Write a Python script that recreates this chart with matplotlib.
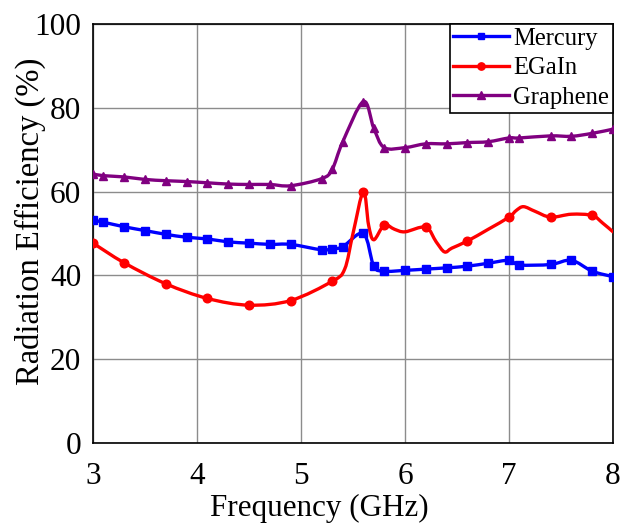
import matplotlib
matplotlib.use("Agg")
import matplotlib.pyplot as plt
from matplotlib.path import Path
from matplotlib.patches import PathPatch
from matplotlib.lines import Line2D
import numpy as np

plt.rcParams['font.family'] = ['Liberation Serif', 'DejaVu Serif']

freq = [3.0, 3.1, 3.3, 3.5, 3.7, 3.9, 4.1, 4.3, 4.5, 4.7, 4.9, 5.2, 5.3, 5.4,
        5.6, 5.7, 5.8, 6.0, 6.2, 6.4, 6.6, 6.8, 7.0, 7.1, 7.4, 7.6, 7.8, 8.0]
mercury = [53.2, 52.7, 51.6, 50.7, 49.8, 49.1, 48.7, 48.0, 47.7, 47.4, 47.4, 46.1, 46.4, 46.8,
           50.0, 42.2, 41.0, 41.2, 41.5, 41.8, 42.2, 42.9, 43.6, 42.5, 42.6, 43.6, 41.0, 39.7]
graphene = [64.2, 63.8, 63.5, 62.9, 62.6, 62.4, 62.1, 61.8, 61.7, 61.7, 61.4, 63.1, 65.3, 71.8,
            81.5, 75.1, 70.5, 70.5, 71.4, 71.4, 71.7, 71.9, 72.8, 72.8, 73.3, 73.2, 73.9, 74.9]

# EGaIn curve (line samples) and marker positions
egain_freq = [3.0, 3.3, 3.7, 4.1, 4.5, 4.9, 5.3, 5.42, 5.5, 5.6, 5.65, 5.7, 5.8, 5.9, 6.0,
              6.2, 6.3, 6.38, 6.45, 6.6, 6.8, 7.0, 7.07, 7.14, 7.25, 7.4, 7.6, 7.8, 7.9, 8.0]
egain = [47.7, 43.0, 38.0, 34.5, 32.9, 34.0, 38.6, 41.5, 50.0, 60.0, 52.0, 48.5, 52.0, 51.0, 50.4,
         51.5, 48.0, 45.6, 46.5, 48.2, 51.0, 53.9, 55.5, 56.4, 55.3, 53.9, 54.6, 54.3, 52.5, 50.4]
egain_marker_freq = [3.0, 3.3, 3.7, 4.1, 4.5, 4.9, 5.3, 5.6, 5.8, 6.2, 6.6, 7.0, 7.4, 7.8]
egain_marker = [47.7, 43.0, 38.0, 34.5, 32.9, 34.0, 38.6, 60.0, 52.0, 51.5, 48.2, 53.9, 53.9, 54.3]

x_ticks = [3, 4, 5, 6, 7, 8]
y_ticks = [0, 20, 40, 60, 80, 100]


def smooth_path(xs, ys):
    pts = np.column_stack([xs, ys]).astype(float)
    n = len(pts)
    verts = [pts[0]]
    codes = [Path.MOVETO]
    for i in range(n - 1):
        p0 = pts[i - 1] if i > 0 else pts[i]
        p1 = pts[i]
        p2 = pts[i + 1]
        p3 = pts[i + 2] if i + 2 < n else pts[i + 1]
        c1 = p1 + (p2 - p0) / 6.0
        c2 = p2 - (p3 - p1) / 6.0
        verts += [c1, c2, p2]
        codes += [Path.CURVE4] * 3
    return Path(verts, codes)


fig = plt.figure(figsize=(6.2, 5.25), dpi=100)
ax = fig.add_axes([0.15, 0.1562, 0.8387, 0.7981])

series = [
    ("Mercury", freq, mercury, freq, mercury, "#0000ff", "s", 5.2),
    ("EGaIn", egain_freq, egain, egain_marker_freq, egain_marker, "#ff0000", "o", 6.2),
    ("Graphene", freq, graphene, freq, graphene, "#800080", "^", 6.2),
]
handles = []
for name, lx, ly, mx, my, col, mk, ms in series:
    ax.add_patch(PathPatch(smooth_path(lx, ly), facecolor='none', edgecolor=col,
                           lw=2.4, zorder=3, capstyle='round', joinstyle='round'))
    ax.plot(mx, my, ls='none', marker=mk, color=col, ms=ms, zorder=4)
    handles.append(Line2D([], [], color=col, lw=2.4, marker=mk, ms=ms * 0.85))

ax.set_xlim(3, 8)
ax.set_ylim(0, 100)
ax.set_xticks(x_ticks)
ax.set_yticks(y_ticks)
ax.tick_params(length=0, labelsize=22.5)
ax.tick_params(axis='x', pad=14)
ax.tick_params(axis='y', pad=8.5)
ax.grid(True, color='#8c8c8c', lw=1.0, zorder=0)
for s in ax.spines.values():
    s.set_color('black')
    s.set_linewidth(1.2)
ax.set_xlabel("Frequency (GHz)", fontsize=22.4)
ax.xaxis.set_label_coords(0.435, -0.122)
ax.set_ylabel("Radiation Efficiency (%)", fontsize=23.5)
ax.yaxis.set_label_coords(-0.09, 0.53)

leg = ax.legend(handles, ["Mercury", "EGaIn", "Graphene"], loc='upper right',
                fontsize=17.7, frameon=True, fancybox=False, framealpha=1,
                edgecolor='black', borderaxespad=0, handlelength=2.25,
                borderpad=0.15, labelspacing=0.3, handletextpad=0.2)
leg.get_frame().set_linewidth(1.2)

fig.savefig("out.png", dpi=100)
